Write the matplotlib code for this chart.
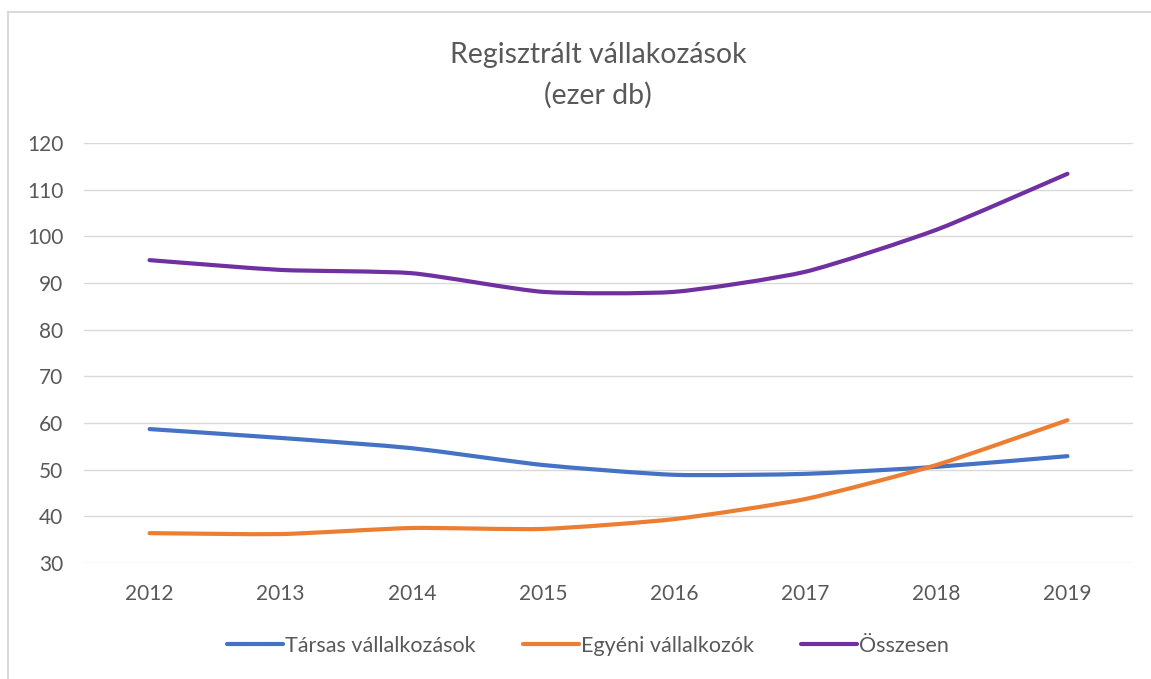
import matplotlib
matplotlib.use("Agg")
import matplotlib.pyplot as plt
from matplotlib.path import Path
from matplotlib.patches import PathPatch
from matplotlib.lines import Line2D
import numpy as np

years = ["2012", "2013", "2014", "2015", "2016", "2017", "2018", "2019"]
tarsas = [58.7, 56.8, 54.6, 51.0, 48.9, 49.1, 50.6, 52.9]
egyeni = [36.4, 36.2, 37.5, 37.3, 39.4, 43.7, 51.0, 60.6]
osszesen = [94.9, 92.8, 92.1, 88.1, 88.1, 92.4, 101.4, 113.4]

series_names = ["Társas vállalkozások", "Egyéni vállalkozók", "Összesen"]
colors = ["#4472C4", "#ED7D31", "#7030A0"]
text_color = "#595959"
font = ["Lato", "DejaVu Sans"]

plt.rcParams["font.family"] = font

fig = plt.figure(figsize=(11.51, 6.79), dpi=100)
ax = fig.add_axes([84 / 1151, 1 - 563 / 679, (1133 - 84) / 1151, (563 - 143) / 679])


def smooth_path(xs, ys, k=10.0):
    pts = np.column_stack([xs, ys]).astype(float)
    n = len(pts)
    verts = [pts[0]]
    codes = [Path.MOVETO]
    for i in range(n - 1):
        p0 = pts[i - 1] if i > 0 else pts[i]
        p1 = pts[i]
        p2 = pts[i + 1]
        p3 = pts[i + 2] if i + 2 < n else pts[i + 1]
        c1 = p1 + (p2 - p0) / k
        c2 = p2 - (p3 - p1) / k
        verts += [c1, c2, p2]
        codes += [Path.CURVE4] * 3
    return Path(verts, codes)


x = np.arange(len(years))
handles = []
for vals, c, name in zip([tarsas, egyeni, osszesen], colors, series_names):
    patch = PathPatch(smooth_path(x, vals), facecolor="none", edgecolor=c,
                      lw=3.0, capstyle="round", joinstyle="round", zorder=3)
    ax.add_patch(patch)
    handles.append(Line2D([0], [0], color=c, lw=3.0, solid_capstyle="round", label=name))

ax.set_xlim(-0.5, len(years) - 0.5)
ax.set_ylim(30, 120)
ax.set_yticks(np.arange(30, 121, 10))
ax.set_xticks(x)
ax.set_xticklabels(years)
ax.grid(axis="y", color="#D9D9D9", lw=1.0)
ax.set_axisbelow(True)
for s in ax.spines.values():
    s.set_visible(False)
ax.tick_params(axis="both", length=0, labelsize=15, colors=text_color)
ax.tick_params(axis="y", pad=15)
ax.tick_params(axis="x", pad=15)

fig.text(598 / 1151, 1 - 55 / 679, "Regisztrált vállakozások", ha="center", va="center",
         fontsize=20.5, color=text_color)
fig.text(598 / 1151, 1 - 95 / 679, "(ezer db)", ha="center", va="center",
         fontsize=20.5, color=text_color)

fig.legend(handles=handles, loc="center", bbox_to_anchor=(588 / 1151, 1 - 646 / 679),
           ncol=3, frameon=False, fontsize=15.5, labelcolor=text_color,
           handlelength=2.6, handletextpad=0.1, columnspacing=2.2)

# outer chart border (top and left visible)
fig.add_artist(Line2D([8 / 1151, 1.0], [1 - 12 / 679, 1 - 12 / 679], color="#D9D9D9", lw=1.5,
                      transform=fig.transFigure))
fig.add_artist(Line2D([8 / 1151, 8 / 1151], [0.0, 1 - 12 / 679], color="#D9D9D9", lw=1.5,
                      transform=fig.transFigure))

fig.savefig("out.png", dpi=100, facecolor="white")
